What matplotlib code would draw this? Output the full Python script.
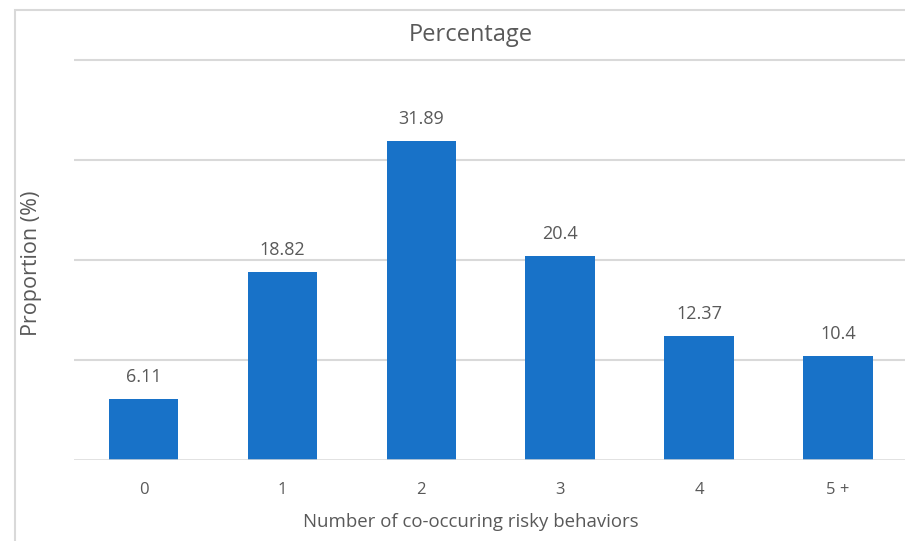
import matplotlib.pyplot as plt
from matplotlib.patches import Rectangle

plt.rcParams["font.family"] = ["Open Sans", "DejaVu Sans"]

categories = ["0", "1", "2", "3", "4", "5 +"]
percentages = [6.11, 18.82, 31.89, 20.4, 12.37, 10.4]
value_labels = ["6.11", "18.82", "31.89", "20.4", "12.37", "10.4"]

BAR_COLOR = "#1872C8"
GRID_COLOR = "#D9D9D9"
TEXT_COLOR = "#595959"

W, H = 905, 541
fig = plt.figure(figsize=(W / 100, H / 100), dpi=100)

# chart frame (runs off the right and bottom edges)
fig.patches.append(Rectangle((15 / W, -0.05), 1.0, 1 - 10 / H + 0.05,
                             transform=fig.transFigure, fill=False,
                             edgecolor=GRID_COLOR, linewidth=1.5))

ymax = 40.5
left, right = 74, 907.5
bottom_px, top_px = 460, 460 - ymax * 10
ax = fig.add_axes([left / W, (H - bottom_px) / H,
                   (right - left) / W, (bottom_px - top_px) / H])

x = range(len(categories))
ax.bar(x, percentages, width=0.5, color=BAR_COLOR, zorder=3)
for xi, v, lbl in zip(x, percentages, value_labels):
    ax.text(xi, v + 1.3, lbl, ha="center", va="bottom", fontsize=13,
            color=TEXT_COLOR)

for g in [10, 20, 30, 40]:
    ax.axhline(g, color=GRID_COLOR, linewidth=1.5, zorder=1)
ax.axhline(0, color=GRID_COLOR, linewidth=1.8, zorder=4)

ax.set_xlim(-0.5, 5.5)
ax.set_ylim(0, ymax)
ax.set_xticks(list(x))
ax.set_xticklabels(categories, fontsize=12, color=TEXT_COLOR)
ax.tick_params(axis="x", length=0, pad=16)
ax.set_yticks([])
for s in ax.spines.values():
    s.set_visible(False)

fig.text(471 / W, 1 - 522 / H, "Number of co-occuring risky behaviors",
         ha="center", va="center", fontsize=13.4, color=TEXT_COLOR)
fig.text(32 / W, 1 - 263 / H, "Proportion (%)", rotation=90, ha="center",
         va="center", fontsize=15.5, color=TEXT_COLOR)
fig.text(471 / W, 1 - 35 / H, "Percentage", ha="center", va="center",
         fontsize=17, color=TEXT_COLOR)

fig.savefig("out.png", dpi=100)
